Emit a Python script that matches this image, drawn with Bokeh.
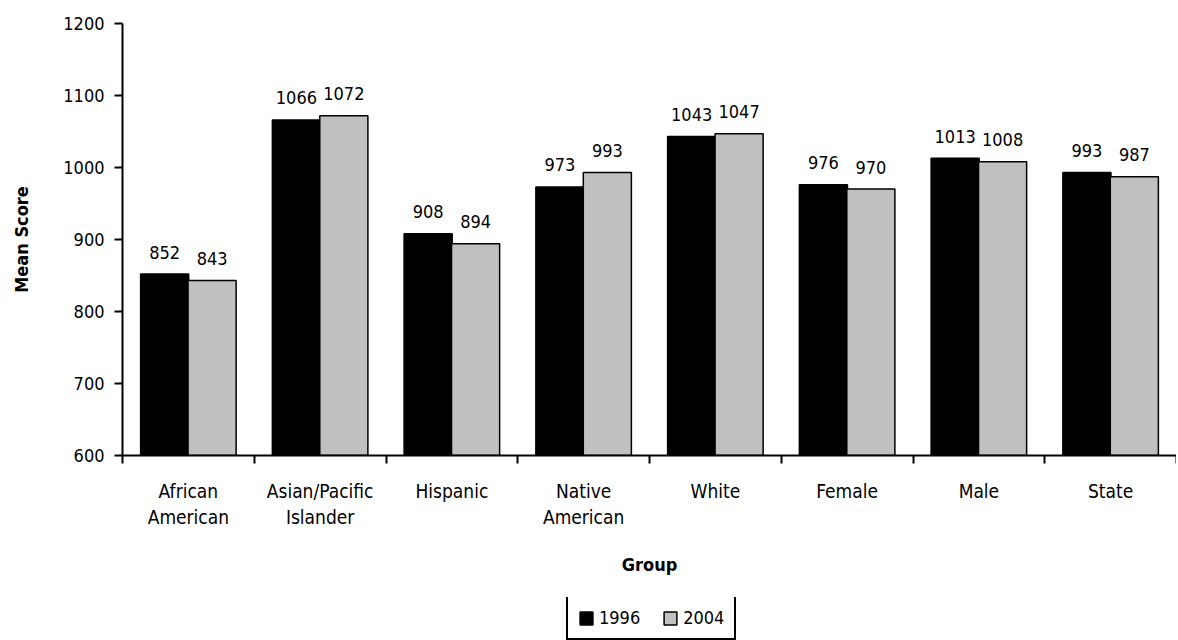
from bokeh.plotting import figure
from bokeh.layouts import column
from bokeh.models import (Range1d, FixedTicker, ColumnDataSource, Legend, LegendItem)
from bokeh.embed import file_html
from bokeh.resources import INLINE

groups = ["African\nAmerican", "Asian/Pacific\nIslander", "Hispanic", "Native\nAmerican",
          "White", "Female", "Male", "State"]
scores_1996 = [852, 1066, 908, 973, 1043, 976, 1013, 993]
scores_2004 = [843, 1072, 894, 993, 1047, 970, 1008, 987]
series_names = ["1996", "2004"]
y_ticks = [600, 700, 800, 900, 1000, 1100, 1200]

FONT = "DejaVu Sans Condensed"
FS = "18px"
OFF = 0.18
BW = 0.365
C96 = "black"
C04 = "#c0c0c0"

n = len(groups)
centers = [i + 0.5 for i in range(n)]
src96 = ColumnDataSource(dict(x=[c - OFF for c in centers], top=scores_1996,
                              lab=[str(v) for v in scores_1996]))
src04 = ColumnDataSource(dict(x=[c + OFF for c in centers], top=scores_2004,
                              lab=[str(v) for v in scores_2004]))

p = figure(output_backend="svg", toolbar_location=None,
           width=1176, height=597,
           x_range=Range1d(0, n), y_range=Range1d(600, 1200),
           min_border_left=122, min_border_top=23, min_border_right=0,
           min_border_bottom=142)
p.outline_line_color = None
p.xgrid.visible = False
p.ygrid.visible = False
p.background_fill_color = "white"
p.border_fill_color = "white"

p.vbar(x="x", top="top", bottom=600, width=BW, source=src96,
       fill_color=C96, line_color="black", line_width=1.5)
p.vbar(x="x", top="top", bottom=600, width=BW, source=src04,
       fill_color=C04, line_color="black", line_width=1.5)

for s in (src96, src04):
    p.text(x="x", y="top", text="lab", source=s, text_align="center",
           text_baseline="alphabetic", y_offset=-22,
           text_font={"value": FONT}, text_font_size={"value": FS}, text_color="black")

# x axis
xa = p.xaxis[0]
xa.ticker = FixedTicker(ticks=centers, minor_ticks=list(range(n + 1)))
xa.major_label_overrides = {c: g for c, g in zip(centers, groups)}
xa.major_tick_line_color = None
xa.major_tick_out = 0
xa.major_tick_in = 0
xa.minor_tick_out = 8
xa.minor_tick_in = 0
xa.minor_tick_line_color = "black"
xa.minor_tick_line_width = 2
xa.axis_line_width = 2
xa.axis_line_color = "black"
xa.major_label_standoff = 16
xa.major_label_text_font = FONT
xa.major_label_text_font_size = "19px"
xa.major_label_text_color = "black"
xa.axis_label = "Group"
xa.axis_label_text_font = FONT
xa.axis_label_text_font_size = FS
xa.axis_label_text_font_style = "bold"
xa.axis_label_text_color = "black"
xa.axis_label_standoff = 23

# y axis
ya = p.yaxis[0]
ya.ticker = FixedTicker(ticks=y_ticks)
ya.major_tick_out = 8
ya.major_tick_in = 0
ya.major_tick_line_width = 2
ya.minor_tick_line_color = None
ya.axis_line_width = 2
ya.axis_line_color = "black"
ya.major_label_standoff = 10
ya.major_label_text_font = FONT
ya.major_label_text_font_size = FS
ya.major_label_text_color = "black"
ya.axis_label = "Mean Score"
ya.axis_label_text_font = FONT
ya.axis_label_text_font_size = FS
ya.axis_label_text_font_style = "bold"
ya.axis_label_text_color = "black"
ya.axis_label_standoff = 28

# legend strip below the chart (swatch renderers hidden behind the legend box)
q = figure(output_backend="svg", toolbar_location=None, width=1176, height=43,
           x_range=Range1d(0, 1), y_range=Range1d(0, 1),
           x_axis_type=None, y_axis_type=None,
           min_border_left=0, min_border_right=0, min_border_top=0, min_border_bottom=0)
q.outline_line_color = None
q.xgrid.visible = False
q.ygrid.visible = False
q.border_fill_color = "white"
l96 = q.vbar(x=[0.5], top=[0.55], bottom=[0.45], width=0.005,
             fill_color=C96, line_color="black", line_width=1.5)
l04 = q.vbar(x=[0.5], top=[0.55], bottom=[0.45], width=0.005,
             fill_color=C04, line_color="black", line_width=1.5)
legend = Legend(items=[LegendItem(label=series_names[0], renderers=[l96]),
                       LegendItem(label=series_names[1], renderers=[l04])],
                orientation="horizontal", location=(444, 0),
                glyph_width=16, glyph_height=16, label_standoff=5, spacing=22,
                padding=10, margin=0,
                label_text_font=FONT, label_text_font_size=FS, label_text_color="black",
                border_line_color="black", border_line_width=2, border_line_alpha=1.0,
                background_fill_color="white", background_fill_alpha=1.0)
q.add_layout(legend, "center")

open("out.html", "w").write(file_html(column(p, q, spacing=0), INLINE))
